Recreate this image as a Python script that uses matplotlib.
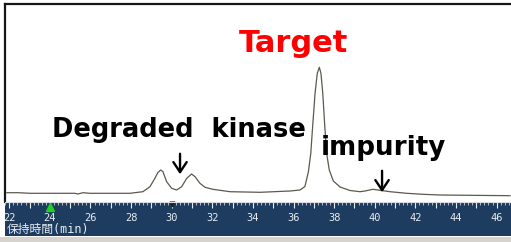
import matplotlib.pyplot as plt
import matplotlib.ticker as mticker
from matplotlib.patches import Rectangle

# Хроматограмма: время удерживания (мин) и сигнал (усл. ед.)
rt_min = [21.88, 22.43, 23.02, 25.23, 25.38, 25.63, 25.97, 27.94, 28.58, 28.93,
          29.18, 29.32, 29.46, 29.57, 29.75, 30.00, 30.24, 30.49, 30.74, 30.98,
          31.15, 31.39, 31.64, 32.03, 32.87, 34.35, 35.83, 36.32, 36.56, 36.73,
          36.85, 36.94, 37.06, 37.17, 37.27, 37.35, 37.44, 37.54, 37.63, 37.76,
          37.96, 38.29, 38.78, 39.27, 39.52, 39.91, 40.16, 40.75, 41.57, 42.38,
          43.21, 44.69, 46.66]
signal = [7.3, 7.3, 6.7, 6.7, 6.0, 7.3, 6.7, 6.7, 8.3, 13.3,
          22.0, 27.5, 30.0, 28.3, 18.3, 11.7, 10.0, 13.3, 21.7, 26.0,
          23.3, 16.7, 12.7, 10.7, 8.3, 7.7, 9.0, 10.0, 13.5, 28.0,
          46.7, 73.3, 106.7, 126.7, 132.7, 126.7, 106.7, 73.3, 46.7, 30.0,
          19.0, 13.0, 9.5, 8.3, 9.0, 10.7, 10.0, 8.3, 6.7, 5.7,
          5.0, 4.7, 4.3]

tick_labels = [22, 24, 26, 28, 30, 32, 34, 36, 38, 40, 42, 44, 46]
x_label = "保持時間(min)"

degraded_rt = 30.41
impurity_rt = 40.36
marker_green_rt = 24
marker_dark_rt = 30

XMIN, XMAX = 21.79, 46.71
W, H = 511, 242

fig = plt.figure(figsize=(W / 100, H / 100), dpi=100)
fig.patch.set_facecolor("white")

# нижняя серая полоса
fig.add_artist(Rectangle((0, 0), 1, 5.5 / H, transform=fig.transFigure,
                         facecolor="#d6d3ce", edgecolor="none"))

# основная область с хроматограммой
ax = fig.add_axes([5 / W, (H - 202) / H, 1 - 5 / W, (202 - 3.5) / H])
ax.plot(rt_min, signal, color="#5a5a4e", lw=0.9)
ax.set_xlim(XMIN, XMAX)
ax.set_ylim(-2, 196.5)
ax.set_xticks([])
ax.set_yticks([])
for side in ["right", "bottom"]:
    ax.spines[side].set_visible(False)
for side in ["left", "top"]:
    ax.spines[side].set_color("#151515")
    ax.spines[side].set_linewidth(1.6)

ax.text(36.02, 148, "Target", color="red", fontsize=22, fontweight="bold",
        family="DejaVu Sans", ha="center", va="baseline")
ax.text(24.10, 63, "Degraded  kinase", color="black", fontsize=18.5,
        fontweight="bold", family="DejaVu Sans", ha="left", va="baseline")
ax.text(37.35, 45, "impurity", color="black", fontsize=18.8,
        fontweight="bold", family="DejaVu Sans", ha="left", va="baseline")

arrow = dict(arrowstyle="->,head_length=0.45,head_width=0.3", lw=1.7,
             color="black", mutation_scale=16)
ax.annotate("", xy=(degraded_rt, 23), xytext=(degraded_rt, 49), arrowprops=arrow)
ax.annotate("", xy=(impurity_rt, 5), xytext=(impurity_rt, 32), arrowprops=arrow)

# шкала времени (тёмно-синяя линейка)
rx = fig.add_axes([5 / W, (H - 236) / H, 1 - 5 / W, 34 / H])
rx.set_facecolor("#1e3c60")
rx.set_xlim(XMIN, XMAX)
rx.set_ylim(0, 1)
rx.set_yticks([])
rx.xaxis.set_ticks_position("top")
rx.xaxis.set_major_locator(mticker.MultipleLocator(1))
rx.xaxis.set_minor_locator(mticker.MultipleLocator(0.2))
rx.tick_params(axis="x", which="major", direction="in", length=4.5,
               width=0.8, color="#e6e9ee", labeltop=False, labelbottom=False)
rx.tick_params(axis="x", which="minor", direction="in", length=2.2,
               width=0.6, color="#c9d0da")
for side in ["left", "right", "bottom"]:
    rx.spines[side].set_visible(False)
rx.spines["top"].set_color("#d8dde4")
rx.spines["top"].set_linewidth(0.8)

for v in tick_labels:
    rx.text(v, 0.52, str(v), color="#e8ecf0", fontsize=7.5,
            family="DejaVu Sans Mono", ha="center", va="center", clip_on=True)

rx.text(0.004, 0.2, x_label, color="#e8ecf0", fontsize=8.5,
        family=["DejaVu Sans Mono", "Noto Sans CJK JP"],
        ha="left", va="center", transform=rx.transAxes)

rx.plot([marker_green_rt], [0.86], marker="^", color="#1fd01f",
        markersize=6, clip_on=False)
rx.plot([marker_dark_rt], [0.93], marker="v", color="#202020",
        markersize=3.5, clip_on=False)

fig.savefig("out.png", dpi=100)
